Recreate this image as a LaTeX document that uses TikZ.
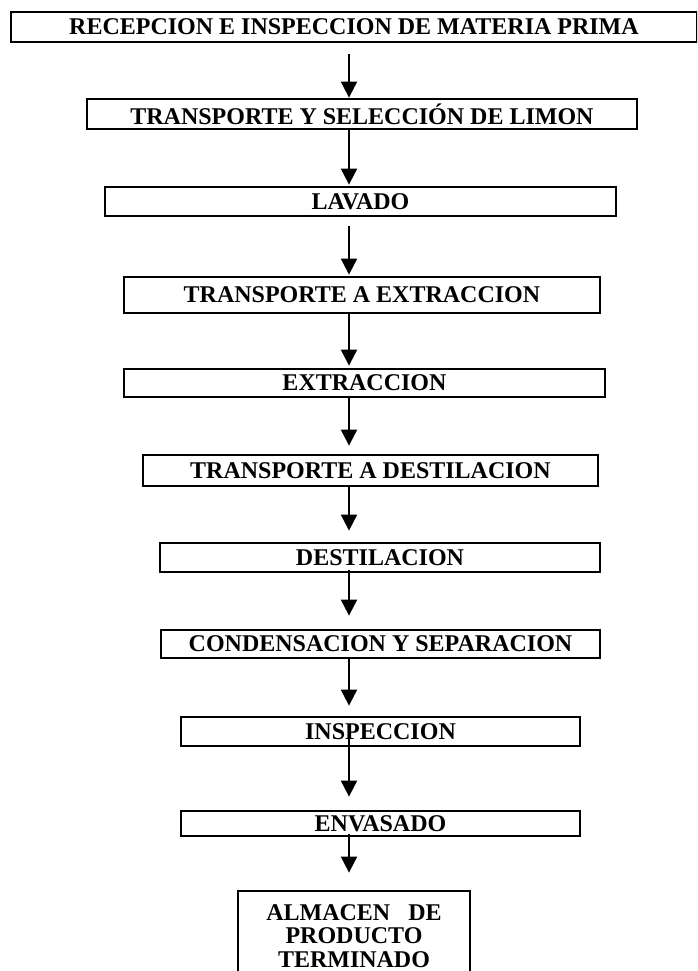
\documentclass[tikz,border=0pt]{standalone}
\usepackage{fontspec}
\setmainfont{Liberation Serif}
\usetikzlibrary{arrows.meta,calc,positioning}

\begin{document}
\begin{tikzpicture}[
    x=1pt,y=-1pt,
    stage/.style={draw=black,line width=2.8pt,inner sep=0pt,align=center,
      font=\fontsize{24}{23.5}\selectfont\bfseries},
    flow/.style={-{Triangle[length=16pt,width=16pt]},line width=2pt}
  ]
    \clip (0,0) rectangle (697,971);
    \coordinate (spine) at (349,0);
    \foreach \n/\cx/\cy/\w/\h/\txt in {
        1/354/27/686/30/{RECEPCION E INSPECCION DE MATERIA PRIMA},
        2/362/114/550/30/{TRANSPORTE Y SELECCIÓN DE LIMON},
        3/360.5/201.5/511/29/{LAVADO},
        4/362/295/476/36/{TRANSPORTE A EXTRACCION},
        5/364.5/383/481/28/{EXTRACCION},
        6/370.5/470.5/455/31/{TRANSPORTE A DESTILACION},
        7/380/557.5/440/29/{DESTILACION},
        8/380.5/644/439/28/{CONDENSACION Y SEPARACION},
        9/380.5/731.5/399/29/{INSPECCION},
        10/380.5/823.5/399/25/{ENVASADO}}
      \node[stage,minimum width=\w pt,minimum height=\h pt] (s\n) at (\cx,\cy) {\txt};
    \node[stage,minimum width=232pt,minimum height=90pt] (s11) at (354,936)
      {ALMACEN\ \ \ DE\\PRODUCTO\\TERMINADO};
    % arrows: from / to / gap below source / gap above target
    \foreach \a/\b/\g/\e in {1/2/11/0,2/3/0/1,3/4/9/1,4/5/0/2,5/6/0/8,
        6/7/0/11,7/8/-3/13,8/9/0/10,9/10/-8/13,10/11/-3/17}
      \draw[flow] ($(spine |- s\a.south)+(0,\g)$) -- ($(spine |- s\b.north)+(0,-\e)$);
  \end{tikzpicture}
\end{document}
